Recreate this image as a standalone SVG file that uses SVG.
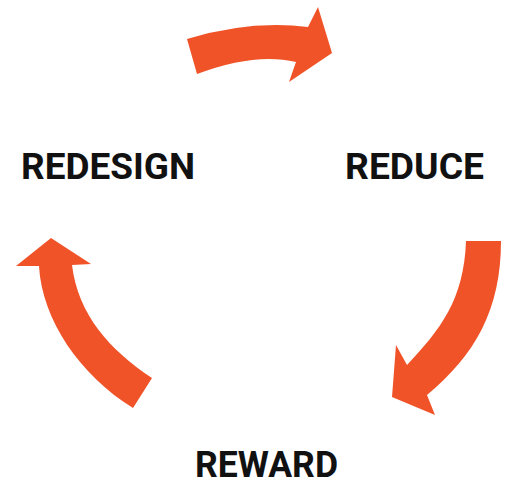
<svg xmlns="http://www.w3.org/2000/svg" width="508" height="482" viewBox="0 0 508 482">
  <style>
    .arrow { fill: #F05328; stroke: none; }
    .label { font-family: Roboto, "Liberation Sans", sans-serif; font-weight: bold; font-size: 36px; fill: #111111; }
  </style>
  <rect width="508" height="482" fill="#ffffff"/>
  <g id="connectors">
    <path id="arrow-top" class="arrow" d="M187,39 Q250,20 308,27 L318,7 L332,53 L289,82 L296,62 Q255,52 197,74 Z"/>
    <path id="arrow-right" class="arrow" d="M466,241 L501,241 C501,310 475,355 427,395 L435,415 L392,397 L396,345 L407,365 C440,330 464,300 466,241 Z"/>
    <path id="arrow-left" class="arrow" d="M133,408 C80,375 42,320 39,266 L16,266 L51,238 L91,264 L72,265 C78,315 110,350 152,378 Z"/>
  </g>
  <g id="node-redesign">
    <text class="label" x="21" y="179" textLength="174" lengthAdjust="spacingAndGlyphs">REDESIGN</text>
  </g>
  <g id="node-reduce">
    <text class="label" x="345" y="179" textLength="139" lengthAdjust="spacingAndGlyphs">REDUCE</text>
  </g>
  <g id="node-reward">
    <text class="label" x="195" y="477" textLength="143" lengthAdjust="spacingAndGlyphs">REWARD</text>
  </g>
</svg>
